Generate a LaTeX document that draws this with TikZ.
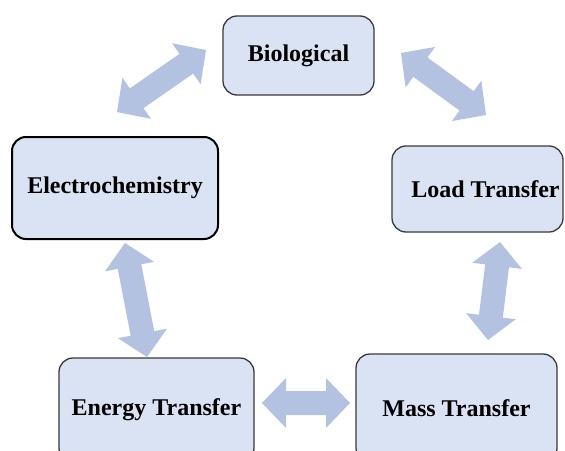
\documentclass[tikz,border=0pt]{standalone}
\usepackage{fontspec}
\setmainfont{Liberation Serif}
\usetikzlibrary{calc}
\definecolor{boxfill}{HTML}{DAE3F3}
\definecolor{boxline}{HTML}{3A3A3A}
\definecolor{arrowc}{HTML}{B4C2E2}
\newcommand{\hl}{24pt}
\newcommand{\hw}{25pt}
\newcommand{\sw}{12pt}
\newcommand{\fatdbl}[2]{%
  \fill[fatarrow] (#1)
    -- ($(#1)!\hl!(#2)!\hw!90:(#2)$)
    -- ($(#1)!\hl!(#2)!\sw!90:(#2)$)
    -- ($(#2)!\hl!(#1)!\sw!-90:(#1)$)
    -- ($(#2)!\hl!(#1)!\hw!-90:(#1)$)
    -- (#2)
    -- ($(#2)!\hl!(#1)!\hw!90:(#1)$)
    -- ($(#2)!\hl!(#1)!\sw!90:(#1)$)
    -- ($(#1)!\hl!(#2)!\sw!-90:(#2)$)
    -- ($(#1)!\hl!(#2)!\hw!-90:(#2)$)
    -- cycle;}
\begin{document}
\begin{tikzpicture}[x=1pt,y=-1pt,
  box/.style={draw=boxline, line width=1.3pt, fill=boxfill, rounded corners=14pt,
    font=\fontsize{24}{28}\selectfont\bfseries, inner sep=0pt, anchor=center},
  fatarrow/.style={fill=arrowc}]
\useasboundingbox (0,0) rectangle (565,450);
\clip (0,0) rectangle (565,450);
\fill[white] (0,0) rectangle (565,450);
\node[box, minimum width=151pt, minimum height=79pt] (bio) at (298.5,55.5) {Biological};
\node[box, draw=black, line width=2pt, minimum width=206pt, minimum height=102pt] (ele) at (115,188) {Electrochemistry};
\node[box, minimum width=171pt, minimum height=86pt] (load) at (477.5,189) {\hspace*{16pt}Load Transfer};
\node[box, minimum width=195pt, minimum height=104pt] (ener) at (156.5,410) {Energy Transfer};
\node[box, minimum width=201pt, minimum height=108pt] (mass) at (456.5,408) {Mass Transfer};
\coordinate (a1) at (206,50);
\coordinate (a2) at (117,112);
\coordinate (b1) at (401,53);
\coordinate (b2) at (486,115);
\coordinate (c1) at (500,242);
\coordinate (c2) at (488,340);
\coordinate (d1) at (125,243);
\coordinate (d2) at (147,357);
\coordinate (e1) at (262,403);
\coordinate (e2) at (350,403);
\fatdbl{a1}{a2}
\fatdbl{b1}{b2}
\fatdbl{c1}{c2}
\fatdbl{d1}{d2}
\fatdbl{e1}{e2}
\end{tikzpicture}
\end{document}
